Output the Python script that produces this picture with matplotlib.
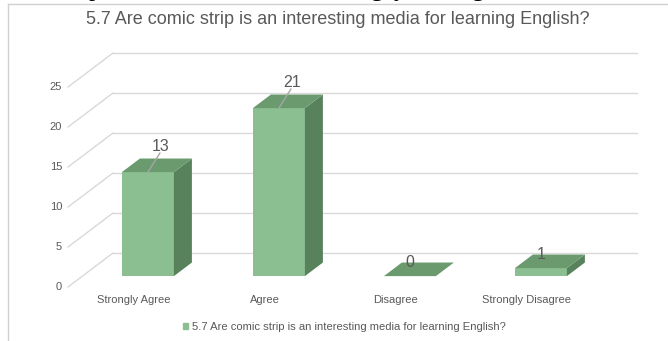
#!/usr/bin/env python3
"""
plot.py — 3D-style column chart for survey item 5.7

Front plane of the chart uses category slots on x and counts on y;
the back wall and the bar boxes are shifted by a fixed depth offset.
"""

import matplotlib
matplotlib.use("Agg")
import matplotlib.pyplot as plt
from matplotlib.patches import Polygon, Patch
from matplotlib.lines import Line2D


QUESTION = "5.7 Are comic strip is an interesting media for learning English?"
CATEGORIES = ["Strongly Agree", "Agree", "Disagree", "Strongly Disagree"]
COUNTS = [13, 21, 0, 1]
Y_TICKS = [0, 5, 10, 15, 20, 25]

# colours
FRONT = "#8bbf91"
TOP = "#6a9a6e"
SIDE = "#58825c"
GRID = "#d9d9d9"
TEXT = "#595959"

# pixel layout of the front plane (fig is 668x341 at 100 dpi)
W_PX, H_PX = 668, 341
X0_PX, SLOT_PX = 68, 131       # left of front plane, width of one category
Y0_PX, UNIT_PX = 287, 8        # baseline (from top), pixels per count
DEPTH_PX = (45, -34)           # back wall offset

DX = DEPTH_PX[0] / SLOT_PX     # depth offset in data units
DY = -DEPTH_PX[1] / UNIT_PX
BAR_W = 52 / SLOT_PX
D_FRONT, D_BACK = 0.32, 0.72   # bar box position inside the depth


def box(ax, xc, v):
    x0 = xc - BAR_W / 2 + D_FRONT * DX
    x1 = x0 + BAR_W
    y0 = D_FRONT * DY
    y1 = y0 + v
    ddx = (D_BACK - D_FRONT) * DX
    ddy = (D_BACK - D_FRONT) * DY

    if v > 0:
        ax.add_patch(Polygon([(x0, y0), (x1, y0), (x1, y1), (x0, y1)],
                             closed=True, fc=FRONT, ec="none", zorder=3))
        ax.add_patch(Polygon([(x1, y0), (x1 + ddx, y0 + ddy), (x1 + ddx, y1 + ddy), (x1, y1)],
                             closed=True, fc=SIDE, ec="none", zorder=3))
    ax.add_patch(Polygon([(x0, y1), (x1, y1), (x1 + ddx, y1 + ddy), (x0 + ddx, y1 + ddy)],
                         closed=True, fc=TOP, ec="none", zorder=3))
    return (x0 + x1) / 2, y1


def main():
    fig = plt.figure(figsize=(W_PX / 100, H_PX / 100), dpi=100)
    plt.rcParams["font.family"] = ["Liberation Sans", "DejaVu Sans"]

    ax = fig.add_axes([0, 0, 1, 1])
    ax.set_xlim(-X0_PX / SLOT_PX, (W_PX - X0_PX) / SLOT_PX)
    ax.set_ylim((Y0_PX - H_PX) / UNIT_PX, Y0_PX / UNIT_PX)
    ax.axis("off")

    n = len(CATEGORIES)

    # side wall diagonals + back wall lines
    for t in Y_TICKS:
        ax.plot([0, DX], [t, t + DY], color=GRID, lw=1.0, zorder=1)
        ax.plot([DX, n + DX], [t + DY, t + DY], color=GRID, lw=1.0, zorder=1)
        ax.text(-6 / SLOT_PX, t, str(t), ha="right", va="center",
                fontsize=8, color=TEXT)

    for i, (cat, v) in enumerate(zip(CATEGORIES, COUNTS)):
        xc = i + 0.5
        fx, fy = box(ax, xc, v)
        ax.text(xc, -13 / UNIT_PX, cat, ha="center", va="center",
                fontsize=8, color=TEXT)

        if v >= 5:
            lx, ly = fx + 13 / SLOT_PX, fy + 26 / UNIT_PX
            ax.plot([fx, lx - 1 / SLOT_PX], [fy, ly - 7 / UNIT_PX],
                    color="#a6a6a6", lw=1.0, zorder=4)
            ax.text(lx, ly, str(v), ha="center", va="center",
                    fontsize=11.5, color=TEXT, zorder=5)
        else:
            ax.text(fx, fy + 14 / UNIT_PX, str(v), ha="center", va="center",
                    fontsize=11.5, color=TEXT, zorder=5)

    fig.text(338 / W_PX, 1 - 20 / H_PX, QUESTION, ha="center", va="center",
             fontsize=13, color=TEXT)

    fig.legend(handles=[Patch(color=FRONT)], labels=[QUESTION],
               loc="center", bbox_to_anchor=(344 / W_PX, 1 - 327 / H_PX),
               frameon=False, fontsize=8.1, handlelength=0.5, handleheight=0.5,
               handletextpad=0.3, labelcolor=TEXT)

    # chart area border
    fig.add_artist(Line2D([8 / W_PX, 8 / W_PX], [0, 1 - 4 / H_PX],
                          transform=fig.transFigure, color="#d0d0d0", lw=1.0))
    fig.add_artist(Line2D([8 / W_PX, 1], [1 - 4 / H_PX, 1 - 4 / H_PX],
                          transform=fig.transFigure, color="#d0d0d0", lw=1.0))

    # descenders of the document line above the chart
    for ch, px in [("p", 95), ("g", 377), ("y", 400), ("g", 478)]:
        fig.text(px / W_PX, 1 + 4 / H_PX, ch, ha="center", va="baseline",
                 fontsize=18, family="Liberation Serif", color="black")

    fig.savefig("out.png", dpi=100)


if __name__ == "__main__":
    main()
